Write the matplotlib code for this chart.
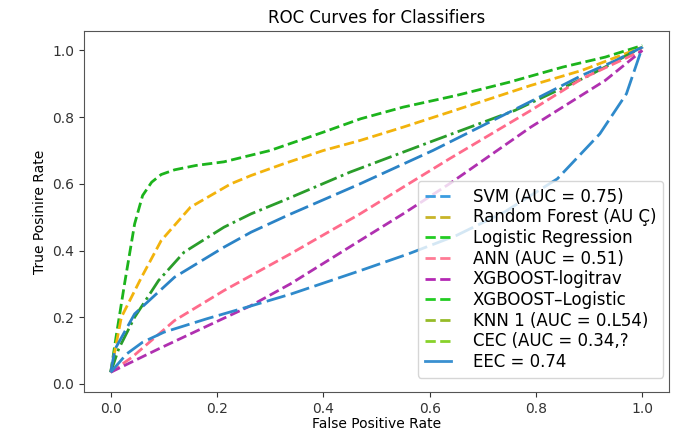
import matplotlib
matplotlib.use("Agg")
import matplotlib.pyplot as plt
from matplotlib.lines import Line2D

# ROC points (FPR, TPR)
svm_fpr = [0, 0.008, 0.045, 0.12, 0.213, 0.264, 0.332, 0.469, 0.606, 0.70, 0.80, 0.886, 0.95, 1.0]
svm_tpr = [0.035, 0.104, 0.21, 0.32, 0.41, 0.455, 0.505, 0.60, 0.70, 0.775, 0.855, 0.925, 0.97, 1.01]

rf_fpr = [0, 0.02, 0.058, 0.095, 0.15, 0.226, 0.264, 0.325, 0.4, 0.469, 0.55, 0.637, 0.79, 0.886, 1.0]
rf_tpr = [0.035, 0.20, 0.32, 0.43, 0.53, 0.60, 0.625, 0.66, 0.70, 0.73, 0.77, 0.815, 0.895, 0.94, 1.01]

lr_fpr = [0, 0.01, 0.026, 0.045, 0.06, 0.077, 0.095, 0.12, 0.16, 0.213, 0.3, 0.4, 0.47,
          0.55, 0.65, 0.75, 0.85, 0.93, 1.0]
lr_tpr = [0.035, 0.14, 0.30, 0.48, 0.565, 0.605, 0.628, 0.642, 0.655, 0.666, 0.70, 0.755, 0.795,
          0.83, 0.865, 0.905, 0.95, 0.98, 1.015]

ann_fpr = [0, 0.04, 0.12, 0.213, 0.264, 0.338, 0.469, 0.55, 0.637, 0.79, 0.886, 1.0]
ann_tpr = [0.035, 0.08, 0.19, 0.28, 0.325, 0.39, 0.51, 0.59, 0.675, 0.82, 0.915, 1.0]

xgbl_fpr = [0, 0.09, 0.19, 0.264, 0.338, 0.469, 0.55, 0.637, 0.79, 0.93, 1.0]
xgbl_tpr = [0.035, 0.105, 0.18, 0.235, 0.30, 0.43, 0.51, 0.60, 0.77, 0.91, 1.0]

xgbc_fpr = [0, 0.015, 0.045, 0.09, 0.138, 0.213, 0.264, 0.325, 0.45, 0.6, 0.76, 0.9, 1.0]
xgbc_tpr = [0.035, 0.105, 0.20, 0.31, 0.395, 0.47, 0.51, 0.55, 0.635, 0.725, 0.82, 0.925, 1.01]

eec_fpr = [0, 0.03, 0.06, 0.1, 0.18, 0.26, 0.34, 0.47, 0.56, 0.65, 0.74, 0.84, 0.92, 0.97, 1.0]
eec_tpr = [0.035, 0.09, 0.125, 0.155, 0.195, 0.232, 0.27, 0.34, 0.39, 0.445, 0.515, 0.615, 0.75, 0.87, 1.01]

legend_labels = ["SVM (AUC = 0.75)", "Random Forest (AU \u00c7)", "Logistic Regression",
                 "ANN (AUC = 0.51)", "XGBOOST-logitrav", "XGBOOST\u2013Logistic",
                 "KNN 1 (AUC = 0.L54)", "CEC (AUC = 0.34,?", "EEC = 0.74"]
legend_colors = ["#3b9de0", "#c8b428", "#22cc22", "#ff7b95", "#b428b4",
                 "#22cc22", "#96bb28", "#88d22a", "#3a90d0"]

fig = plt.figure(figsize=(6.73, 4.32), dpi=100)
ax = fig.add_axes([0.125, 0.092, 0.869, 0.836])

ax.plot(lr_fpr, lr_tpr, color="#1cb41c", lw=2, ls="--")
ax.plot(rf_fpr, rf_tpr, color="#f2b30c", lw=2, ls="--")
ax.plot(xgbc_fpr, xgbc_tpr, color="#2a9d2a", lw=2, ls="-.")
ax.plot(svm_fpr, svm_tpr, color="#2b83c6", lw=2, dashes=(7, 2))
ax.plot(ann_fpr, ann_tpr, color="#ff6b8b", lw=2, ls="--")
ax.plot(xgbl_fpr, xgbl_tpr, color="#b030b0", lw=2, ls="--")
ax.plot(eec_fpr, eec_tpr, color="#2f8acb", lw=2, dashes=(7, 2))

handles = []
for lab, col in zip(legend_labels, legend_colors):
    style = "-" if lab.startswith("EEC") else "--"
    handles.append(Line2D([], [], color=col, lw=2, ls=style, label=lab))
ax.legend(handles=handles, loc="lower right", bbox_to_anchor=(0.99, 0.04),
          borderaxespad=0, fontsize=12, labelspacing=0.16,
          handlelength=1.6, handletextpad=1.3)

ax.set_xlim(-0.05, 1.05)
ax.set_ylim(-0.025, 1.058)
ax.set_xticks([0, 0.2, 0.4, 0.6, 0.8, 1.0])
ax.set_yticks([0, 0.2, 0.4, 0.6, 0.8, 1.0])
ax.tick_params(labelsize=10, colors="#333333")
for s in ax.spines.values():
    s.set_color("#555555")
ax.set_title("ROC Curves for Classifiers", fontsize=12)
ax.set_xlabel("False Positive Rate", fontsize=10, labelpad=1)
ax.set_ylabel("True Posinire Rate", fontsize=10)

fig.savefig("out.png", dpi=100)
